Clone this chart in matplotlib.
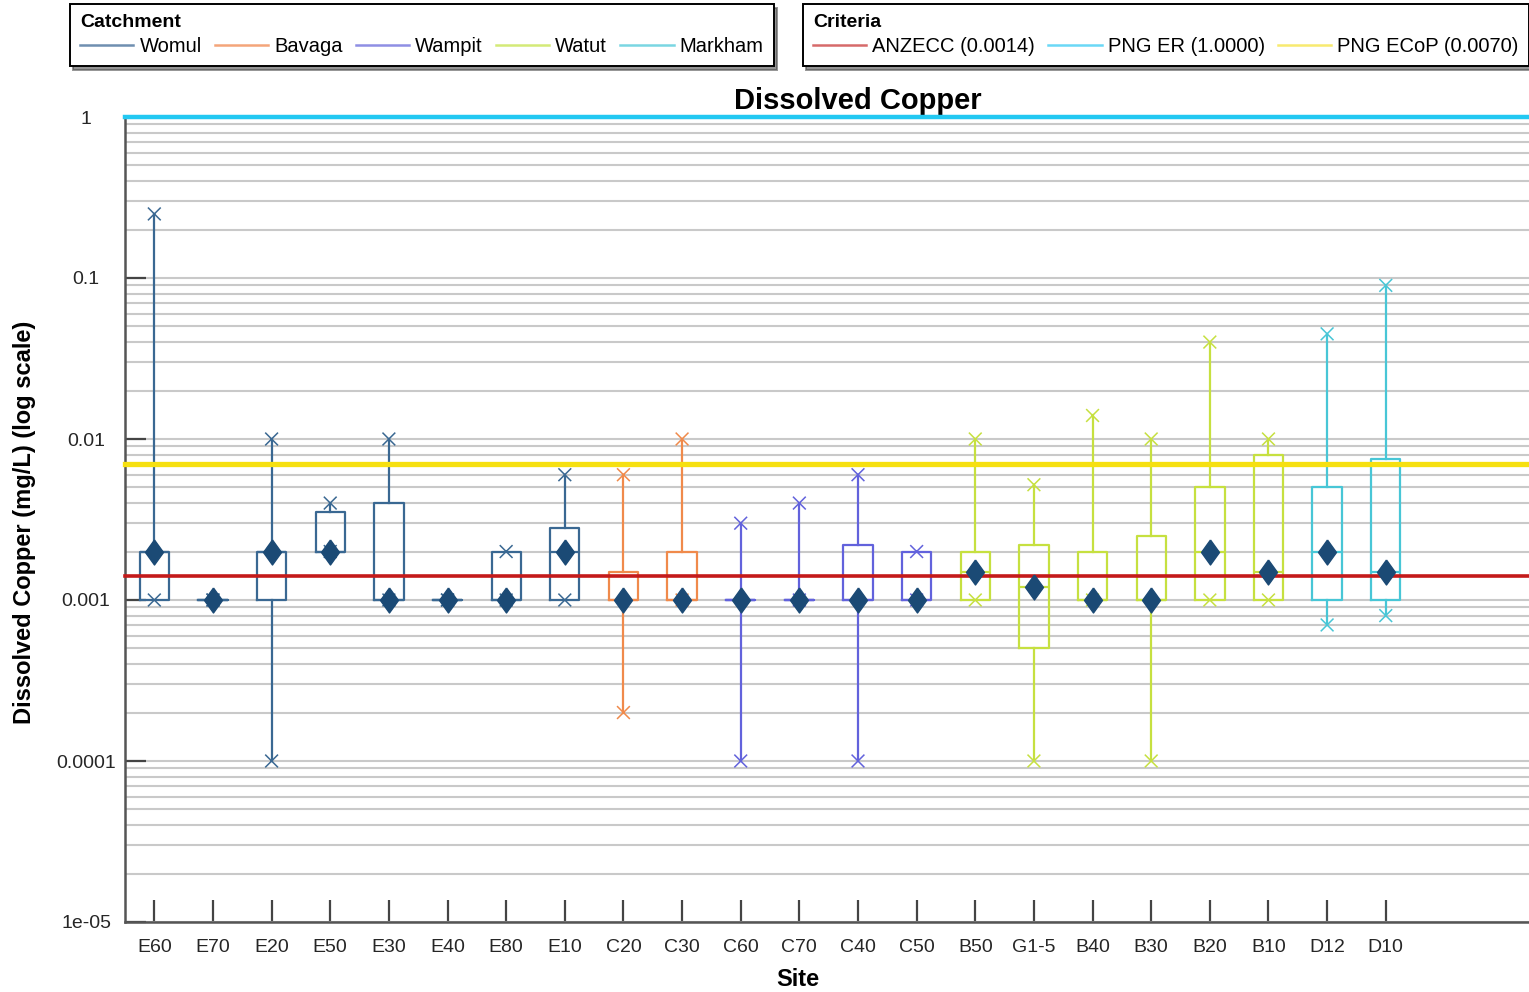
import numpy as np
import matplotlib
matplotlib.use("Agg")
import matplotlib.pyplot as plt
from matplotlib.lines import Line2D
from matplotlib.ticker import LogLocator, FixedLocator, FixedFormatter, NullFormatter

# Sampling sites, ordered by catchment
sites = ["E60", "E70", "E20", "E50", "E30", "E40", "E80", "E10",
         "C20", "C30", "C60", "C70", "C40", "C50",
         "B50", "G1-5", "B40", "B30", "B20", "B10", "D12", "D10"]
site_catchment = ["Womul"] * 8 + ["Bavaga"] * 2 + ["Wampit"] * 4 + ["Watut"] * 6 + ["Markham"] * 2

# Dissolved copper summary statistics (mg/L)
cu_min = [0.001, 0.001, 0.0001, 0.002, 0.001, 0.001, 0.001, 0.001,
          0.0002, 0.001, 0.0001, 0.001, 0.0001, 0.001,
          0.001, 0.0001, 0.001, 0.0001, 0.001, 0.001, 0.0007, 0.0008]
cu_q1 = [0.001, 0.001, 0.001, 0.002, 0.001, 0.001, 0.001, 0.001,
         0.001, 0.001, 0.001, 0.001, 0.001, 0.001,
         0.001, 0.0005, 0.001, 0.001, 0.001, 0.001, 0.001, 0.001]
cu_median = [0.002, 0.001, 0.002, 0.002, 0.001, 0.001, 0.001, 0.002,
             0.001, 0.001, 0.001, 0.001, 0.001, 0.001,
             0.0015, 0.0012, 0.001, 0.001, 0.002, 0.0015, 0.002, 0.0015]
cu_q3 = [0.002, 0.001, 0.002, 0.0035, 0.004, 0.001, 0.002, 0.0028,
         0.0015, 0.002, 0.001, 0.001, 0.0022, 0.002,
         0.002, 0.0022, 0.002, 0.0025, 0.005, 0.008, 0.005, 0.0075]
cu_max = [0.25, 0.001, 0.01, 0.004, 0.01, 0.001, 0.002, 0.006,
          0.006, 0.01, 0.003, 0.004, 0.006, 0.002,
          0.01, 0.0052, 0.014, 0.01, 0.04, 0.01, 0.045, 0.09]

catchments = ["Womul", "Bavaga", "Wampit", "Watut", "Markham"]
catchment_colors = ["#3a6892", "#f08a4b", "#6262dc", "#c6e040", "#48c6d6"]
legend_line_colors = ["#6f8fb0", "#f4a57a", "#8f8fe4", "#d4ea78", "#7ad6e2"]

criteria_names = ["ANZECC", "PNG ER", "PNG ECoP"]
criteria_values = [0.0014, 1.0, 0.0070]
criteria_colors = ["#c41a1a", "#22c8f2", "#f6e010"]
criteria_legend_colors = ["#d66a6a", "#6ad8f6", "#f8ea70"]
criteria_widths = [2.6, 3.2, 3.8]

ytick_values = [1e-5, 1e-4, 1e-3, 1e-2, 1e-1, 1]
ytick_labels = ["1e-05", "0.0001", "0.001", "0.01", "0.1", "1"]

median_color = "#1b4a75"

plt.rcParams["font.family"] = ["Liberation Sans", "DejaVu Sans"]

W, H = 1529, 992
fig = plt.figure(figsize=(W / 100, H / 100), dpi=100)
fig.patch.set_facecolor("white")

# Plot area runs past the right edge of the canvas
ax_left, ax_right, ax_top, ax_bottom = 125, 1591, 117, 922
ax = fig.add_axes([ax_left / W, 1 - ax_bottom / H,
                   (ax_right - ax_left) / W, (ax_bottom - ax_top) / H])

color_of = dict(zip(catchments, catchment_colors))
site_colors = [color_of[c] for c in site_catchment]
positions = np.arange(1, len(sites) + 1)

stats = []
for i, s in enumerate(sites):
    stats.append(dict(label=s, med=cu_median[i], q1=cu_q1[i], q3=cu_q3[i],
                      whislo=cu_min[i], whishi=cu_max[i], fliers=[]))

art = ax.bxp(stats, positions=positions, widths=0.5, showcaps=False,
             showfliers=False, manage_ticks=False,
             boxprops=dict(linewidth=1.6), whiskerprops=dict(linewidth=1.6),
             medianprops=dict(linewidth=1.6))
for i, col in enumerate(site_colors):
    art["boxes"][i].set_color(col)
    art["boxes"][i].set_zorder(2)
    art["medians"][i].set_color(col)
    art["medians"][i].set_zorder(2)
    for w in art["whiskers"][2 * i:2 * i + 2]:
        w.set_color(col)
        w.set_zorder(2)

# Whisker end markers
ax.scatter(positions, cu_max, marker="x", c=site_colors, s=85, linewidths=1.1, zorder=3)
ax.scatter(positions, cu_min, marker="x", c=site_colors, s=85, linewidths=1.1, zorder=3)

# Criteria lines
for val, col, lw in zip(criteria_values, criteria_colors, criteria_widths):
    ax.axhline(val, color=col, linewidth=lw, zorder=4, clip_on=False)

# Median markers (diamond slightly taller than wide)
diamond = [(0, 1), (0.72, 0), (0, -1), (-0.72, 0), (0, 1)]
ax.plot(positions, cu_median, linestyle="none", marker=diamond, markersize=18,
        color=median_color, zorder=6)

ax.set_yscale("log")
ax.set_ylim(1e-5, 1)
ax.set_xlim(0.5, 25.5)

ax.yaxis.set_major_locator(FixedLocator(ytick_values))
ax.yaxis.set_major_formatter(FixedFormatter(ytick_labels))
ax.yaxis.set_minor_locator(LogLocator(base=10, subs=np.arange(2, 10)))
ax.yaxis.set_minor_formatter(NullFormatter())
ax.tick_params(axis="y", which="major", direction="in", length=15, width=1.6,
               color="#444444", pad=28, labelsize=14, labelcolor="#262626")
for lbl in ax.get_yticklabels():
    lbl.set_horizontalalignment("center")
ax.tick_params(axis="y", which="minor", length=0)

ax.set_xticks(positions)
ax.set_xticklabels(sites)
ax.tick_params(axis="x", direction="in", length=16, width=1.6, color="#444444",
               pad=12, labelsize=14, labelcolor="#262626")

ax.yaxis.grid(True, which="both", color="#c9c9c9", linewidth=1.5)
ax.xaxis.grid(False)
ax.set_axisbelow(True)

for side in ("top", "right"):
    ax.spines[side].set_visible(False)
for side in ("left", "bottom"):
    ax.spines[side].set_color("#555555")
    ax.spines[side].set_linewidth(1.8)

ax.set_title("Dissolved Copper", fontsize=21, fontweight="bold", pad=6)
ax.set_xlabel("Site", fontsize=17, fontweight="bold")
ax.xaxis.set_label_coords((798 - ax_left) / (ax_right - ax_left), -0.057)
ax.set_ylabel("Dissolved Copper (mg/L) (log scale)", fontsize=17, fontweight="bold")
ax.yaxis.set_label_coords((36 - ax_left) / (ax_right - ax_left), 0.496)

# Legends
leg_kw = dict(loc="upper left", ncol=5, fontsize=14.5, title_fontsize=14,
              frameon=True, fancybox=False, borderaxespad=0,
              handlelength=2.65, handletextpad=0.3, columnspacing=0.65,
              borderpad=0.5, labelspacing=0.3,
              shadow={"ox": 2, "oy": -3, "alpha": 0.6}, alignment="left")

c_handles = [Line2D([], [], color=c, linewidth=1.8) for c in legend_line_colors]
leg1 = fig.legend(c_handles, catchments, bbox_to_anchor=(70 / W, 1 - 4 / H),
                  title="Catchment", **leg_kw)
leg1.get_title().set_fontweight("bold")
leg1.get_frame().set_edgecolor("black")
leg1.get_frame().set_linewidth(1.4)

r_handles = [Line2D([], [], color=c, linewidth=1.8) for c in criteria_legend_colors]
r_labels = [f"{n} ({v:.4f})" for n, v in zip(criteria_names, criteria_values)]
leg_kw["ncol"] = 3
leg_kw["columnspacing"] = 0.65
leg2 = fig.legend(r_handles, r_labels, bbox_to_anchor=(803 / W, 1 - 4 / H),
                  title="Criteria", **leg_kw)
leg2.get_title().set_fontweight("bold")
leg2.get_frame().set_edgecolor("black")
leg2.get_frame().set_linewidth(1.4)

fig.savefig("out.png", dpi=100, facecolor="white")
